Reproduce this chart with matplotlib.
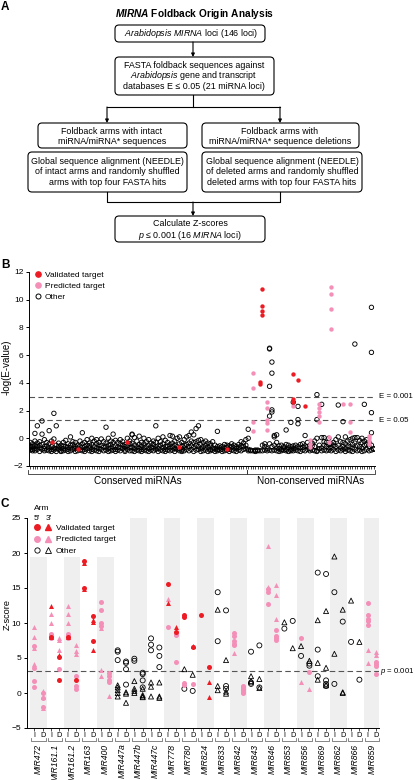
import matplotlib
matplotlib.use('Agg')
import matplotlib.pyplot as plt
from matplotlib.patches import FancyBboxPatch
from matplotlib.lines import Line2D
from matplotlib.legend_handler import HandlerTuple
import matplotlib.transforms as mtransforms

plt.rcParams['font.family'] = ['Liberation Sans', 'DejaVu Sans']
plt.rcParams['mathtext.fontset'] = 'custom'
plt.rcParams['mathtext.rm'] = 'Liberation Sans'
plt.rcParams['mathtext.it'] = 'Liberation Sans:italic'
plt.rcParams['mathtext.bf'] = 'Liberation Sans:bold'
plt.rcParams['mathtext.bfit'] = 'Liberation Sans:bold:italic'

RED = '#ED1C24'
PINK = '#F490B8'

# ---------------- Panel B data ----------------
b_n_conserved = 92
b_other = [
    [-0.3, -0.55, -0.7, -0.85], [-0.4, -0.6, -0.8, -0.9], [0.35, -0.2, -0.5, -0.75, -0.9],
    [0.9, -0.35, -0.6, -0.8], [-0.25, -0.5, -0.7, -0.95], [1.25, 0.3, -0.45, -0.8],
    [-0.1, -0.6, -0.75, -0.9], [-0.3, -0.55, -0.85], [0.55, -0.4, -0.7, -0.9],
    [-0.2, -0.6, -0.8, -0.95], [1.8, -0.05, -0.7, -0.85], [0.9, -0.5, -0.75, -0.95],
    [-0.35, -0.6, -0.8], [-0.5, -0.7, -0.9, -0.95], [-0.3, -0.55, -0.75, -0.9],
    [-0.15, -0.6, -0.85], [-0.4, -0.65, -0.8, -0.95], [0.1, -0.5, -0.7, -0.9],
    [-0.25, -0.45, -0.8], [-0.3, -0.6, -0.75, -0.95], [-0.5, -0.7, -0.9],
    [-0.2, -0.55, -0.85], [0.4, -0.4, -0.65, -0.9], [-0.3, -0.6, -0.8, -0.95],
    [-0.1, -0.5, -0.75], [-0.35, -0.55, -0.7, -0.9], [0.0, -0.45, -0.8, -0.95],
    [-0.2, -0.6, -0.85], [-0.1, -0.4, -0.7, -0.9], [-0.3, -0.5, -0.75, -0.95],
    [-0.05, -0.55, -0.8], [-0.25, -0.65, -0.9], [0.8, -0.35, -0.6, -0.85],
    [0.0, -0.5, -0.75, -0.95], [-0.2, -0.45, -0.7, -0.9], [0.3, -0.3, -0.6, -0.85],
    [-0.15, -0.55, -0.8, -0.95], [-0.3, -0.65, -0.85], [-0.1, -0.4, -0.7, -0.9],
    [-0.25, -0.5, -0.75], [-0.45, -0.6, -0.85, -0.95], [0.0, -0.55, -0.8],
    [-0.2, -0.4, -0.7, -0.9], [0.3, 0.25, -0.35, -0.65, -0.9], [0.05, -0.5, -0.75, -0.95],
    [-0.2, -0.6, -0.85], [0.15, -0.45, -0.7, -0.9], [-0.3, -0.55, -0.8, -0.95],
    [0.0, -0.4, -0.7, -0.85], [-0.25, -0.6, -0.9], [-0.1, -0.5, -0.75, -0.95],
    [-0.35, -0.65, -0.85], [-0.2, -0.45, -0.7, -0.9], [0.9, -0.3, -0.6, -0.8],
    [0.0, -0.55, -0.75, -0.95], [-0.25, -0.5, -0.85], [0.1, -0.4, -0.7, -0.9],
    [-0.15, -0.6, -0.8, -0.95], [-0.3, -0.55, -0.85], [0.2, -0.45, -0.7, -0.9],
    [0.15, -0.35, -0.6, -0.85], [-0.2, -0.5, -0.75, -0.95], [0.0, -0.6, -0.8],
    [0.1, -0.4, -0.75, -0.9], [-0.3, -0.55, -0.85, -0.95], [-0.1, -0.5, -0.7, -0.9],
    [0.1, -0.45, -0.8], [0.2, -0.35, -0.6, -0.9], [0.45, -0.2, -0.55, -0.8],
    [0.25, -0.3, -0.65, -0.95], [0.7, -0.25, -0.5, -0.85], [0.9, -0.15, -0.6, -0.8],
    [-0.1, -0.45, -0.75, -0.95], [-0.3, -0.6, -0.9], [-0.2, -0.5, -0.7, -0.85],
    [-0.35, -0.65, -0.95], [-0.4, -0.55, -0.8, -0.9], [-0.25, -0.7, -0.85],
    [-0.5, -0.75, -0.95], [0.5, -0.6, -0.8, -0.9], [-0.55, -0.7, -0.85],
    [-0.6, -0.8, -0.95], [-0.45, -0.7, -0.9], [-0.5, -0.65, -0.85],
    [-0.55, -0.8, -0.95], [-0.4, -0.6, -0.85], [-0.5, -0.7, -0.9],
    [-0.6, -0.75, -0.95], [-0.45, -0.65, -0.85], [-0.25, -0.55, -0.9],
    [-0.35, -0.6, -0.8], [-0.1, -0.5, -0.75],
    # non-conserved loci
    [0.65, 0.0, -0.8, -0.9], [-0.85, -0.9], [-0.9], [-0.85, -0.9, -0.95], [-0.85, -0.9],
    [-0.9], [-0.5, -0.9], [-0.4, -0.6, -0.85], [-0.75, -0.9],
    [6.5, 6.45, 3.75, 1.6, -0.4, -0.85], [5.5, 4.7, 2.05, 1.9, -0.6, -0.9],
    [0.2, 0.1, -0.5, -0.85], [0.25, -0.3, -0.7, -0.9], [-0.55, -0.75, -0.95],
    [-0.5, -0.8, -0.9], [-0.6, -0.7, -0.85], [0.6, -0.45, -0.8, -0.9], [-0.5, -0.7, -0.95],
    [1.15, -0.6, -0.8, -0.9], [2.6, -0.55, -0.75, -0.9], [-0.5, -0.7, -0.85],
    [2.3, 1.35, 1.05, -0.6, -0.9], [-0.45, -0.7, -0.95], [-0.4, -0.65, -0.85],
    [0.2, -0.55, -0.9], [-0.3, -0.6, -0.8], [-0.5, -0.75, -0.9], [-0.35, -0.55, -0.85],
    [-0.2, -0.6, -0.9], [3.15, 1.35, 0.0, -0.9, -0.95], [-0.5, -0.75],
    [2.45, 0.05, -0.7, -0.9], [0.05, -0.25, -0.5, -0.85], [-0.3, -0.6, -0.9],
    [0.0, -0.45, -0.7, -0.85], [-0.4, -0.7, -0.9], [-0.3, -0.5, -0.8], [-0.1, -0.6, -0.95],
    [2.4, 0.1, -0.5, -0.85], [-0.25, -0.7, -0.9], [1.2, -0.3, -0.6, -0.8],
    [0.1, -0.4, -0.75, -0.95], [-0.2, -0.55, -0.85], [-0.1, -0.6, -0.9],
    [0.0, -0.45, -0.7, -0.95], [6.8, 0.05, -0.35, -0.8], [0.05, -0.5, -0.9],
    [-0.15, -0.6, -0.85], [0.0, -0.3, -0.7, -0.95], [2.45, -0.2, -0.5, -0.9],
    [-0.1, -0.45, -0.8], [-0.3, -0.6, -0.9], [9.45, 6.2, 1.85, 0.4, -0.5, -0.85],
    [-0.75, -0.8],
]
b_validated = [(9, [-0.3]), (20, [-0.8]), (41, [-0.3]), (63, [-0.65]), (83, [-0.75]),
               (97, [4.05, 3.95]), (98, [10.8, 9.55, 9.2, 8.9]), (111, [4.65, 2.8, 2.65]),
               (113, [4.2]), (116, [2.3])]
b_predicted = [(94, [4.7, 3.65, 1.2, 0.55]), (100, [2.65, 2.2, 1.35, 1.1, 0.6]), (111, [2.3]),
               (118, [-0.15, -0.4, -0.6]), (122, [2.5, 2.15, 1.9, 1.6, 1.2]), (126, [0.1, -0.3]),
               (127, [10.9, 10.4, 9.3, 7.9]), (132, [2.45]), (135, [2.5, 1.2, 0.45]),
               (143, [0.2, 0.0, -0.2, -0.4])]
b_thresholds = [(3.0, 'E = 0.001'), (1.30, 'E = 0.05')]

# ---------------- Panel C data ----------------
c_mirnas = ["MIR472", "MIR161.1", "MIR161.2", "MIR163", "MIR400", "MIR447a", "MIR447b",
            "MIR447c", "MIR778", "MIR780", "MIR824", "MIR833", "MIR842", "MIR843",
            "MIR846", "MIR853", "MIR856", "MIR869", "MIR862", "MIR866", "MIR859"]
c_valid_5p = [("MIR161.1", "I", [8.0]), ("MIR161.1", "D", [5.2, 1.9]), ("MIR161.2", "I", [8.0]),
              ("MIR161.2", "D", [1.8]), ("MIR163", "I", [18.8, 15.0]), ("MIR163", "D", [11.0, 7.4]),
              ("MIR778", "I", [15.6]), ("MIR778", "D", [8.7]), ("MIR780", "I", [11.1, 10.8]),
              ("MIR780", "D", [6.6]), ("MIR824", "I", [11.2]), ("MIR824", "D", [3.7])]
c_valid_3p = [("MIR161.1", "I", [12.5, 8.0]), ("MIR161.1", "D", [5.5]), ("MIR161.2", "I", [8.0]),
              ("MIR163", "I", [18.6, 14.9]), ("MIR163", "D", [10.4, 10.1, 6.2]),
              ("MIR778", "I", [12.9]), ("MIR778", "D", [9.5]), ("MIR780", "D", [6.7]),
              ("MIR824", "D", [1.6, -0.6])]
c_pred_5p = [("MIR472", "I", [6.7, 3.6, 1.7, 0.8]), ("MIR472", "D", [0.0, -0.7, -2.0]),
             ("MIR161.1", "I", [8.4, 8.1, 7.8]), ("MIR161.1", "D", [3.5]),
             ("MIR161.2", "I", [8.5, 8.3, 7.8]), ("MIR161.2", "D", [2.4, 1.0, 0.6]),
             ("MIR400", "I", [13.0, 11.9, 10.0, 9.6]), ("MIR400", "D", [2.8, 2.4, 1.9, 1.6]),
             ("MIR778", "I", [9.4]), ("MIR778", "D", [8.5, 8.3, 4.5]),
             ("MIR780", "I", [1.4, 1.1]), ("MIR780", "D", [1.3]),
             ("MIR842", "I", [8.6, 8.2, 7.4, 7.0, 6.8]), ("MIR842", "D", [1.0, 0.8, 0.6, 0.4, 0.2, 0.0]),
             ("MIR846", "I", [14.9, 14.5, 12.7]), ("MIR846", "D", [9.0, 8.2, 7.9, 7.6]),
             ("MIR856", "I", [7.9]), ("MIR856", "D", [3.0]),
             ("MIR859", "I", [12.8, 11.1, 10.6, 10.3, 9.7]), ("MIR859", "D", [4.4, 4.1, 3.8, 2.7])]
c_pred_3p = [("MIR472", "I", [9.4, 8.0, 6.5, 4.2]), ("MIR472", "D", [0.3, -0.5, -2.1]),
             ("MIR161.1", "I", [11.3, 10.0]), ("MIR161.1", "D", [7.8, 7.6, 6.1]),
             ("MIR161.2", "I", [12.5, 11.3, 10.0]), ("MIR161.2", "D", [6.9, 6.0, 5.6]),
             ("MIR400", "I", [9.3, 3.3, 2.5]), ("MIR400", "D", [-0.4]),
             ("MIR778", "I", [13.4]), ("MIR842", "I", [5.7]),
             ("MIR846", "I", [21.0, 15.2]), ("MIR846", "D", [15.4, 14.0, 10.6]),
             ("MIR856", "I", [1.6]), ("MIR856", "D", [0.6]),
             ("MIR859", "I", [6.1, 4.3]), ("MIR859", "D", [5.8, 5.4])]
c_other_5p = [("MIR447a", "I", [6.1, 5.9, 4.7]), ("MIR447a", "D", [4.5, 4.3, 3.4, 1.2]),
              ("MIR447b", "I", [4.9, 4.6]), ("MIR447b", "D", [2.9, 2.7, 1.8, 0.8]),
              ("MIR447c", "I", [7.8, 6.9, 6.1]), ("MIR447c", "D", [6.5, 5.3, 3.7]),
              ("MIR780", "I", [0.6]), ("MIR780", "D", [0.3]),
              ("MIR833", "I", [14.4, 7.4]), ("MIR833", "D", [11.8, 1.0, 0.6]),
              ("MIR843", "I", [5.9, 1.5, 1.3]), ("MIR843", "D", [6.8, 0.8]),
              ("MIR853", "I", [9.2]), ("MIR853", "D", [10.3]),
              ("MIR856", "I", [5.3]), ("MIR856", "D", [4.2, 3.9]),
              ("MIR869", "I", [17.2, 6.2, 2.4]), ("MIR869", "D", [17.0, 1.8, 1.3, 1.0]),
              ("MIR862", "I", [14.4, 1.3]), ("MIR862", "D", [10.2]),
              ("MIR866", "I", [7.3]), ("MIR866", "D", [1.9])]
c_other_3p = [("MIR447a", "I", [1.1, 0.8, 0.4, 0.0, -0.5]), ("MIR447a", "D", [0.1, -0.1, -1.4]),
              ("MIR447b", "I", [1.7, 0.6, 0.3, 0.0]), ("MIR447b", "D", [0.6, -0.3, -0.5, -0.6]),
              ("MIR447c", "I", [1.5, 0.9, -0.5]), ("MIR447c", "D", [1.5, -0.5, -0.7]),
              ("MIR780", "I", [3.4]), ("MIR780", "D", [2.6]),
              ("MIR833", "I", [11.9, 1.0, 0.4]), ("MIR833", "D", [4.7, 0.2, -0.1]),
              ("MIR843", "I", [2.4, 1.7]), ("MIR843", "D", [2.0, 0.7]),
              ("MIR853", "I", [10.1]), ("MIR853", "D", [6.4]),
              ("MIR856", "I", [6.7]), ("MIR856", "D", [4.6]),
              ("MIR869", "I", [10.4, 4.3, 1.9]), ("MIR869", "D", [11.7, 3.6, 1.1]),
              ("MIR862", "I", [19.5, 5.6]), ("MIR862", "D", [11.9, 0.1, 0.0]),
              ("MIR866", "I", [13.2]), ("MIR866", "D", [7.3])]
c_threshold = 3.09

# ---------------- figure ----------------
W, H = 415, 780
fig = plt.figure(figsize=(W / 100, H / 100), dpi=100)
ax0 = fig.add_axes([0, 0, 1, 1])
ax0.set_xlim(0, W)
ax0.set_ylim(H, 0)
ax0.axis('off')

FS = 6.0
FA = 6.4

def rbox(x0, y0, x1, y1):
    ax0.add_patch(FancyBboxPatch((x0, y0), x1 - x0, y1 - y0,
                                 boxstyle="round,pad=0,rounding_size=4",
                                 lw=0.8, ec='black', fc='white'))

def lines(xc, ys, texts):
    for y, t in zip(ys, texts):
        ax0.text(xc, y, t, ha='center', va='center', fontsize=FA)

def arrow(x, y0, y1):
    ax0.annotate('', xy=(x, y1), xytext=(x, y0),
                 arrowprops=dict(arrowstyle='-|>', lw=0.8, color='black',
                                 mutation_scale=5, shrinkA=0, shrinkB=0))

ax0.text(5, 6.5, 'A', fontsize=8.5, fontweight='bold', ha='center', va='center')
ax0.text(5, 265, 'B', fontsize=8.5, fontweight='bold', ha='center', va='center')
ax0.text(5, 504, 'C', fontsize=8.5, fontweight='bold', ha='center', va='center')

ax0.text(195, 14, r'$\mathbfit{MIRNA}$ Foldback Origin Analysis', fontsize=7.3,
         fontweight='bold', ha='center', va='center')
rbox(115, 25, 265, 42)
lines(191, [33.5], [r'$\mathit{Arabidopsis\ MIRNA}$ loci (146 loci)'])
arrow(193, 42, 57)
rbox(115, 57, 274, 95)
lines(194, [65.5, 76, 86.5], ['FASTA foldback sequences against',
                             r'$\mathit{Arabidopsis}$ gene and transcript',
                             'databases E ≤ 0.05 (21 miRNA loci)'])
ax0.plot([193, 193], [95, 107], color='black', lw=0.8)
ax0.plot([107, 280], [107, 107], color='black', lw=0.8)
arrow(107, 107, 123)
arrow(280, 107, 123)
rbox(38, 123, 187, 148)
lines(112, [131.5, 142], ['Foldback arms with intact', 'miRNA/miRNA* sequences'])
rbox(202, 123, 359, 148)
lines(280, [131.5, 142], ['Foldback arms with', 'miRNA/miRNA* sequence deletions'])
rbox(28, 152, 187, 192)
lines(107.5, [161.5, 172, 182.5], ['Global sequence alignment (NEEDLE)',
                                   'of intact arms and randomly shuffled',
                                   'arms with top four FASTA hits'])
rbox(202, 152, 362, 192)
lines(282, [161.5, 172, 182.5], ['Global sequence alignment (NEEDLE)',
                                 'of deleted arms and randomly shuffled',
                                 'deleted arms with top four FASTA hits'])
ax0.plot([107, 107, 280, 280], [192, 202, 202, 192], color='black', lw=0.8)
arrow(193, 202, 216)
rbox(115, 216, 265, 242)
lines(190, [224, 235], ['Calculate Z-scores', r'$\mathit{p}$ ≤ 0.001 (16 $\mathit{MIRNA}$ loci)'])

# ---------------- Panel B ----------------
bl, br, bt, bb = 29, 375, 272, 466
axB = fig.add_axes([bl / W, 1 - bb / H, (br - bl) / W, (bb - bt) / H])
axB.patch.set_alpha(0)
n_loci = len(b_other)
ox, oy = [], []
for i, ys in enumerate(b_other):
    for y in ys:
        ox.append(i + 0.5); oy.append(y)
axB.scatter(ox, oy, s=10, facecolors='none', edgecolors='black', linewidths=0.65, zorder=3)
px, py = [], []
for i, ys in b_predicted:
    for y in ys:
        px.append(i + 0.5); py.append(y)
axB.scatter(px, py, s=10, color=PINK, linewidths=0, zorder=4)
vx, vy = [], []
for i, ys in b_validated:
    for y in ys:
        vx.append(i + 0.5); vy.append(y)
axB.scatter(vx, vy, s=10, color=RED, linewidths=0, zorder=5)
axB.set_xlim(0, n_loci)
axB.set_ylim(-2, 12)
axB.set_yticks(range(-2, 13, 2))
axB.set_xticks([i + 0.5 for i in range(n_loci)])
axB.set_xticklabels([])
axB.tick_params(axis='x', length=2, width=0.5, direction='out')
axB.tick_params(axis='y', length=2.5, width=0.7, labelsize=FS, pad=1.5)
for s in ['top', 'right']:
    axB.spines[s].set_visible(False)
for s in ['left', 'bottom']:
    axB.spines[s].set_linewidth(0.7)
trB = mtransforms.blended_transform_factory(axB.transAxes, axB.transData)
for yv, lab in b_thresholds:
    axB.axhline(yv, color='#555555', lw=0.8, dashes=(5, 3), zorder=1)
    axB.text(1.012, yv, lab, transform=trB, fontsize=5.7, va='center', ha='left')
axB.set_ylabel('-log(E-value)', fontsize=7)
axB.yaxis.set_label_coords(-0.05, 0.51)
trB2 = mtransforms.blended_transform_factory(axB.transData, axB.transAxes)
for a, b, lab in [(0, b_n_conserved, 'Conserved miRNAs'), (b_n_conserved, n_loci, 'Non-conserved miRNAs')]:
    a2 = a + 0.15 if a > 0 else a - 0.3
    b2 = b - 0.15 if b < n_loci else b
    axB.plot([a2, a2, b2, b2], [-0.022, -0.04, -0.04, -0.022], transform=trB2,
             color='#333333', lw=0.6, clip_on=False)
    axB.text((a + b) / 2, -0.075, lab, transform=trB2, ha='center', va='center', fontsize=7.2)
hb = [Line2D([], [], marker='o', ls='', mfc=RED, mec=RED, ms=3.8),
      Line2D([], [], marker='o', ls='', mfc=PINK, mec=PINK, ms=3.8),
      Line2D([], [], marker='o', ls='', mfc='none', mec='black', mew=0.7, ms=3.6)]
axB.legend(hb, ['Validated target', 'Predicted target', 'Other'], loc='upper left',
           bbox_to_anchor=(35 / W, 1 - 271 / H), bbox_transform=fig.transFigure,
           frameon=False, fontsize=FS, handletextpad=0.4, labelspacing=0.38,
           handlelength=0.8, borderpad=0, borderaxespad=0)

# ---------------- Panel C ----------------
cl, cr, ct, cb = 26.7, 379, 518, 728
axC = fig.add_axes([cl / W, 1 - cb / H, (cr - cl) / W, (cb - ct) / H])
axC.patch.set_alpha(0)
kx0 = (cl - 38.5) / 16.67
kx1 = (cr - 38.5) / 16.67
axC.set_xlim(kx0, kx1)
axC.set_ylim(-5, 25)
idx = {m: k for k, m in enumerate(c_mirnas)}
for k in range(0, len(c_mirnas), 2):
    top = 19.4 if k <= 4 else 25
    axC.bar(k, top + 5, bottom=-5, width=1.0, color='#EFEFEF', zorder=0, linewidth=0)

def cpts(groups):
    xs, ys = [], []
    for m, arm, vals in groups:
        for v in vals:
            xs.append(idx[m] + (-0.25 if arm == 'I' else 0.25)); ys.append(v)
    return xs, ys

CS = 13
for grp, mk in [(c_other_5p, 'o'), (c_other_3p, '^')]:
    xs, ys = cpts(grp)
    axC.scatter(xs, ys, s=CS, marker=mk, facecolors='none', edgecolors='black', linewidths=0.6, zorder=3)
for grp, mk, col, z in [(c_pred_5p, 'o', PINK, 4), (c_pred_3p, '^', PINK, 4),
                        (c_valid_5p, 'o', RED, 5), (c_valid_3p, '^', RED, 5)]:
    xs, ys = cpts(grp)
    axC.scatter(xs, ys, s=CS, marker=mk, color=col, linewidths=0, zorder=z)
axC.axhline(c_threshold, color='#555555', lw=0.8, dashes=(5, 3), zorder=2)
trC = mtransforms.blended_transform_factory(axC.transAxes, axC.transData)
axC.text(1.002, c_threshold, r'$\mathit{p}$ = 0.001', transform=trC, fontsize=5.6, va='center', ha='left')
axC.set_yticks(range(-5, 26, 5))
xt, xl = [], []
for k in range(len(c_mirnas)):
    xt += [k - 0.25, k + 0.25]; xl += ['I', 'D']
axC.set_xticks(xt)
axC.set_xticklabels(xl, fontsize=5.3)
axC.tick_params(axis='x', length=2, width=0.5, pad=1)
axC.tick_params(axis='y', length=2.5, width=0.7, labelsize=FS, pad=1.5)
for s in ['top', 'right']:
    axC.spines[s].set_visible(False)
for s in ['left', 'bottom']:
    axC.spines[s].set_linewidth(0.7)
axC.set_ylabel('Z-score', fontsize=6.6)
axC.yaxis.set_label_coords(-0.043, 0.54)
trC2 = mtransforms.blended_transform_factory(axC.transData, axC.transAxes)
for k, m in enumerate(c_mirnas):
    axC.plot([k - 0.42, k - 0.42, k + 0.42, k + 0.42], [-0.048, -0.06, -0.06, -0.048],
             transform=trC2, color='#555555', lw=0.5, clip_on=False)
    axC.text(k, -0.075, m, transform=trC2, rotation=90, ha='center', va='top',
             fontsize=6.2, fontstyle='italic')

hc = [(Line2D([], [], marker='o', ls='', mfc=RED, mec=RED, ms=4.0),
       Line2D([], [], marker='^', ls='', mfc=RED, mec=RED, ms=4.0)),
      (Line2D([], [], marker='o', ls='', mfc=PINK, mec=PINK, ms=4.0),
       Line2D([], [], marker='^', ls='', mfc=PINK, mec=PINK, ms=4.0)),
      (Line2D([], [], marker='o', ls='', mfc='none', mec='black', mew=0.6, ms=3.8),
       Line2D([], [], marker='^', ls='', mfc='none', mec='black', mew=0.6, ms=3.8))]
axC.legend(hc, ['Validated target', 'Predicted target', 'Other'],
           handler_map={tuple: HandlerTuple(ndivide=None, pad=0)},
           loc='upper left', bbox_to_anchor=(31.5 / W, 1 - 524 / H), bbox_transform=fig.transFigure,
           frameon=False, fontsize=FS, handlelength=2.7, handletextpad=0.2,
           labelspacing=0.45, borderpad=0, borderaxespad=0)
ax0.text(34, 509, 'Arm', fontsize=FS, ha='left', va='center')
ax0.text(34, 519, "5′", fontsize=FS, ha='left', va='center')
ax0.text(46, 519, "3′", fontsize=FS, ha='left', va='center')

fig.savefig('out.png', dpi=100)
